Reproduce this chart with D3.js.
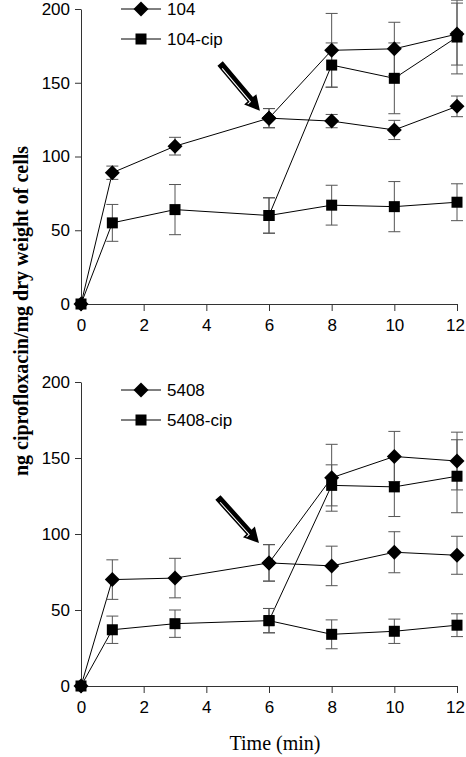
<!DOCTYPE html>
<html><head><meta charset="utf-8">
<script src="https://cdn.jsdelivr.net/npm/d3@7"></script>
<style>body{margin:0;background:#fff}svg{display:block}</style>
</head><body>
<script>
// ---------- data ----------
const times = [0, 1, 3, 6, 8, 10, 12];
const yTicks = [0, 50, 100, 150, 200];
const xTicks = [0, 2, 4, 6, 8, 10, 12];

// panel 1 (strain 104)
const s104      = [0, 89, 107, 126, 172, 173, 183];
const s104Err   = [0, 4.5, 6, 6.5, 25, 18, 21];
const s104B     = [null, null, null, 126, 124, 118, 134];
const s104BErr  = [0, 0, 0, 6.5, 4.5, 6.5, 7];
const s104cip     = [0, 55, 64, 60, 67, 66, 69];
const s104cipErr  = [0, 12.5, 17, 12, 13.5, 17, 12.5];
const s104cipB    = [null, null, null, 60, 162, 153, 181];
const s104cipBErr = [0, 0, 0, 12, 15, 24, 25];

// panel 2 (strain 5408)
const s5408      = [0, 70, 71, 81, 137, 151, 148];
const s5408Err   = [0, 13, 13, 12, 22, 16.5, 19];
const s5408B     = [null, null, null, 81, 79, 88, 86];
const s5408BErr  = [0, 0, 0, 12, 13, 13.5, 12.5];
const s5408cip     = [0, 37, 41, 43, 34, 36, 40];
const s5408cipErr  = [0, 9, 9, 8, 9.5, 8, 7.5];
const s5408cipB    = [null, null, null, 43, 132, 131, 138];
const s5408cipBErr = [0, 0, 0, 8, 13.5, 19.5, 24];

// arrows (data coords: tail x,y -> tip x,y)
const arrow1 = [4.44, 163, 5.71, 131];
const arrow2 = [4.37, 124, 5.68, 94];

const legend1 = ["104", "104-cip"];
const legend2 = ["5408", "5408-cip"];

// ---------- drawing ----------
const W = 466, H = 757;
const svg = d3.select("body").append("svg").attr("width", W).attr("height", H);
const x = d3.scaleLinear().domain([0, 12]).range([81, 457]);

const diamond = "M0,-7.5L7.5,0L0,7.5L-7.5,0Z";

function panel(y, diaA, diaAErr, diaB, diaBErr, sqA, sqAErr, sqB, sqBErr, legend, arrow, legY) {
  const g = svg.append("g");
  // axes
  const ya = g.append("g").attr("transform", `translate(${x(0)},0)`)
    .call(d3.axisLeft(y).tickValues(yTicks).tickSize(6).tickPadding(5).tickSizeOuter(0));
  const xa = g.append("g").attr("transform", `translate(0,${y(0)})`)
    .call(d3.axisBottom(x).tickValues(xTicks).tickSize(7).tickPadding(8).tickSizeOuter(0));
  [ya, xa].forEach(a => {
    a.select(".domain").attr("stroke", "#333").attr("stroke-width", 1);
    a.selectAll(".tick line").attr("stroke", "#333");
    a.selectAll("text").attr("font-family", "Liberation Sans, Arial, sans-serif")
      .attr("font-size", 17).attr("fill", "#000");
  });
  xa.selectAll(".tick text").filter(d => d === 12).attr("dx", -2);

  const line = d3.line().defined(d => d[1] !== null).x(d => x(d[0])).y(d => y(d[1]));
  const sets = [
    [diaA, diaAErr, "d"], [diaB, diaBErr, "d"], [sqA, sqAErr, "s"], [sqB, sqBErr, "s"]
  ];
  // lines
  sets.forEach(([v]) => {
    g.append("path").datum(times.map((t, i) => [t, v[i]]))
      .attr("d", line).attr("fill", "none").attr("stroke", "#000").attr("stroke-width", 1);
  });
  // error bars
  sets.forEach(([v, e]) => {
    times.forEach((t, i) => {
      if (v[i] === null || !e[i]) return;
      const eg = g.append("g").attr("stroke", "#555").attr("stroke-width", 1);
      eg.append("line").attr("x1", x(t)).attr("x2", x(t)).attr("y1", y(v[i] - e[i])).attr("y2", y(v[i] + e[i]));
      [v[i] - e[i], v[i] + e[i]].forEach(yy => {
        eg.append("line").attr("x1", x(t) - 6).attr("x2", x(t) + 6).attr("y1", y(yy)).attr("y2", y(yy));
      });
    });
  });
  // markers
  sets.forEach(([v, e, m]) => {
    times.forEach((t, i) => {
      if (v[i] === null) return;
      if (m === "d") {
        g.append("path").attr("d", diamond).attr("transform", `translate(${x(t)},${y(v[i])})`).attr("fill", "#000");
      } else {
        g.append("rect").attr("x", x(t) - 5.5).attr("y", y(v[i]) - 5.5).attr("width", 11).attr("height", 11).attr("fill", "#000");
      }
    });
  });
  // legend
  legend.forEach((name, i) => {
    const ly = legY + i * 30;
    const lx = 141;
    g.append("line").attr("x1", lx - 20).attr("x2", lx + 20).attr("y1", ly).attr("y2", ly).attr("stroke", "#000");
    if (i === 0) g.append("path").attr("d", diamond).attr("transform", `translate(${lx},${ly})`).attr("fill", "#000");
    else g.append("rect").attr("x", lx - 5.5).attr("y", ly - 5.5).attr("width", 11).attr("height", 11).attr("fill", "#000");
    g.append("text").attr("x", lx + 26).attr("y", ly).attr("dy", "0.35em")
      .attr("font-family", "Liberation Sans, Arial, sans-serif").attr("font-size", 17).text(name);
  });
  // arrow
  const x1 = x(arrow[0]), y1 = y(arrow[1]), x2 = x(arrow[2]), y2 = y(arrow[3]);
  const L = Math.hypot(x2 - x1, y2 - y1), ang = Math.atan2(y2 - y1, x2 - x1) * 180 / Math.PI;
  const ag = g.append("g").attr("transform", `translate(${x1},${y1}) rotate(${ang})`);
  ag.append("path").attr("d", `M0,-3.5L${L-15},-3.5L${L-15},-8L${L},0L${L-15},8L${L-15},3.5L0,3.5Z`).attr("fill", "#000");
  ag.append("path").attr("d", `M5,1.5L${L-13},1.5L${L-13},5`).attr("fill", "none").attr("stroke", "#fff").attr("stroke-width", 1);
}

const y1s = d3.scaleLinear().domain([0, 200]).range([304, 9]);
const y2s = d3.scaleLinear().domain([0, 200]).range([686, 382]);
panel(y1s, s104, s104Err, s104B, s104BErr, s104cipB, s104cipBErr, s104cip, s104cipErr, legend1, arrow1, 9);
panel(y2s, s5408, s5408Err, s5408B, s5408BErr, s5408cipB, s5408cipBErr, s5408cip, s5408cipErr, legend2, arrow2, 390);

// axis titles
svg.append("text").attr("transform", "translate(21,311) rotate(-90)").attr("text-anchor", "middle")
  .attr("dy", "0.35em").attr("font-family", "Liberation Serif, Times New Roman, serif")
  .attr("font-weight", "bold").attr("font-size", 20).text("ng ciprofloxacin/mg dry weight of cells");
svg.append("text").attr("x", 275).attr("y", 750).attr("text-anchor", "middle")
  .attr("font-family", "Liberation Serif, Times New Roman, serif").attr("font-size", 20).text("Time (min)");
</script>
</body></html>
